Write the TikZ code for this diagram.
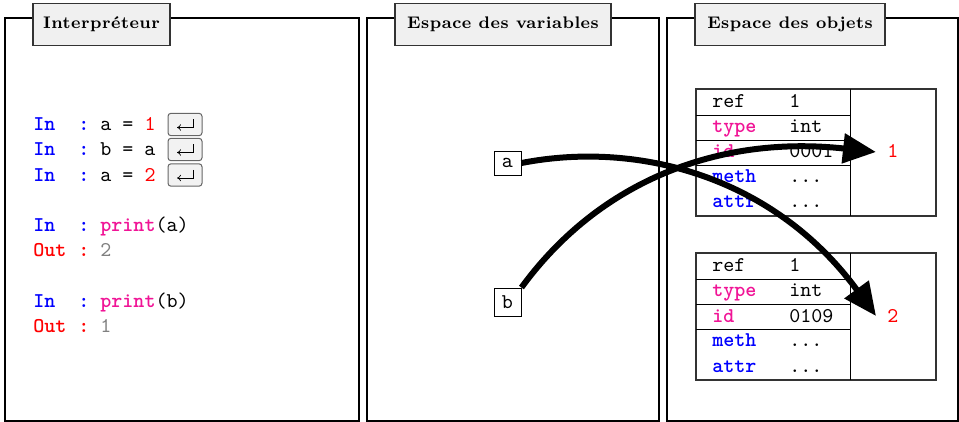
\documentclass[tikz,border=0pt]{standalone}
\usepackage{fontspec}
\usetikzlibrary{arrows.meta}
\newfontfamily\titlefont[LetterSpace=3,BoldFont={Latin Modern Roman/B}]{Latin Modern Roman}
\definecolor{kwpink}{RGB}{240,20,150}
\definecolor{kwblue}{RGB}{0,0,255}
\definecolor{kwred}{RGB}{255,0,0}
\definecolor{outgray}{gray}{0.5}
\tikzset{
  x=0.5pt,y=-0.5pt,
  frame/.style={draw=black,line width=1.15pt},
  titlebox/.style={draw=black!80,line width=0.8pt,fill=black!6,minimum height=21pt,inner sep=0pt,font=\titlefont\bfseries\fontsize{8.4}{10}\selectfont},
  code/.style={anchor=base west,inner sep=0pt,font=\ttfamily\fontsize{10.5}{12}\selectfont},
  kw/.style={code,font=\ttfamily\bfseries\fontsize{10.5}{12}\selectfont},
  keybox/.style={draw=black!60,line width=0.5pt,fill=black!5,rounded corners=1.5pt,minimum width=17pt,minimum height=11.2pt,inner sep=0pt},
  keyglyph/.style={draw=black,line width=0.35pt,-{To[length=2pt,width=3.2pt]}},
  varbox/.style={draw=black,line width=0.45pt,fill=white,minimum width=13.5pt,inner sep=0pt,font=\ttfamily\fontsize{10.5}{12}\selectfont},
  tableline/.style={draw=black,line width=0.45pt},
  tableout/.style={draw=black!80,line width=0.55pt},
  ref/.style={line width=3pt,-{Triangle[length=16.5pt,width=14.5pt]}},
  val/.style={inner sep=0pt,text=kwred,font=\ttfamily\fontsize{10.5}{12}\selectfont}
}
\newcommand{\inrow}[2]{%
  \node[kw,text=kwblue] at (33,#1) {In};
  \node[kw,text=kwblue] at (78,#1) {:};
  \node[code] at (100,#1) {#2};
}
\newcommand{\outrow}[2]{%
  \node[kw,text=kwred] at (33,#1) {Out};
  \node[kw,text=kwred] at (78,#1) {:};
  \node[code,text=outgray] at (100,#1) {#2};
}
\newcommand{\keycap}[2]{%
  \node[keybox] (#1) at (185,#2) {};
  \draw[keyglyph] ([shift={(8,-5)}]#1.center) -- ([shift={(8,3)}]#1.center) -- ([shift={(-8,3)}]#1.center);
}
\newcommand{\objtable}[2]{%
  \begin{scope}[yshift=-#1*0.5pt]
  \draw[tableout] (696,89) rectangle (936,216);
  \draw[tableline] (850,89) -- (850,216);
  \draw[tableline] (696,115) -- (850,115);
  \draw[tableline] (696,140) -- (850,140);
  \draw[tableline] (696,165) -- (850,165);
  \node[code] at (712,107.5) {ref};
  \node[code] at (789,107.5) {1};
  \node[kw,text=kwpink] at (712,132.5) {type};
  \node[code] at (789,132.5) {int};
  \node[kw,text=kwpink] at (712,158) {id};
  \node[code] at (789,158) {#2};
  \node[kw,text=kwblue] at (712,183) {meth};
  \node[code] at (789,183) {...};
  \node[kw,text=kwblue] at (712,208) {attr};
  \node[code] at (789,208) {...};
  \end{scope}
}
\begin{document}
\begin{tikzpicture}
\useasboundingbox (0,0) rectangle (959,422);
\draw[frame] (5,18) rectangle (359,421);
\draw[frame] (367,18) rectangle (659,421);
\draw[frame] (667,18) rectangle (958,421);
\node[titlebox,minimum width=68.5pt] (t1) at (101.5,24.5) {Interpréteur};
\node[titlebox,minimum width=108pt] (t2) at (503,24.5) {Espace des variables};
\node[titlebox,minimum width=95pt] (t3) at (790,24.5) {Espace des objets};
\inrow{131}{a = \textcolor{kwred}{1}}
\inrow{156}{b = a}
\inrow{182}{a = \textcolor{kwred}{2}}
\keycap{k1}{124.5}
\keycap{k2}{149.5}
\keycap{k3}{175}
\inrow{232}{\textcolor{kwpink}{\bfseries print}(a)}
\outrow{257}{2}
\inrow{307}{\textcolor{kwpink}{\bfseries print}(b)}
\outrow{333}{1}
\objtable{0}{0001}
\objtable{164}{0109}
\node[varbox,minimum height=12pt] (a) at (507.5,163) {a};
\node[varbox,minimum height=14pt] (b) at (507.5,302) {b};
\node[val] (one) at (893,151) {1};
\node[val] (two) at (893,316) {2};
\coordinate (tip1) at (876,152);
\coordinate (tip2) at (876,316);
\draw[ref] (a.east) .. controls (640,140) and (775,178) .. (tip2);
\draw[ref] (b.north east) .. controls (600,180) and (720,135) .. (tip1);
\end{tikzpicture}
\end{document}
